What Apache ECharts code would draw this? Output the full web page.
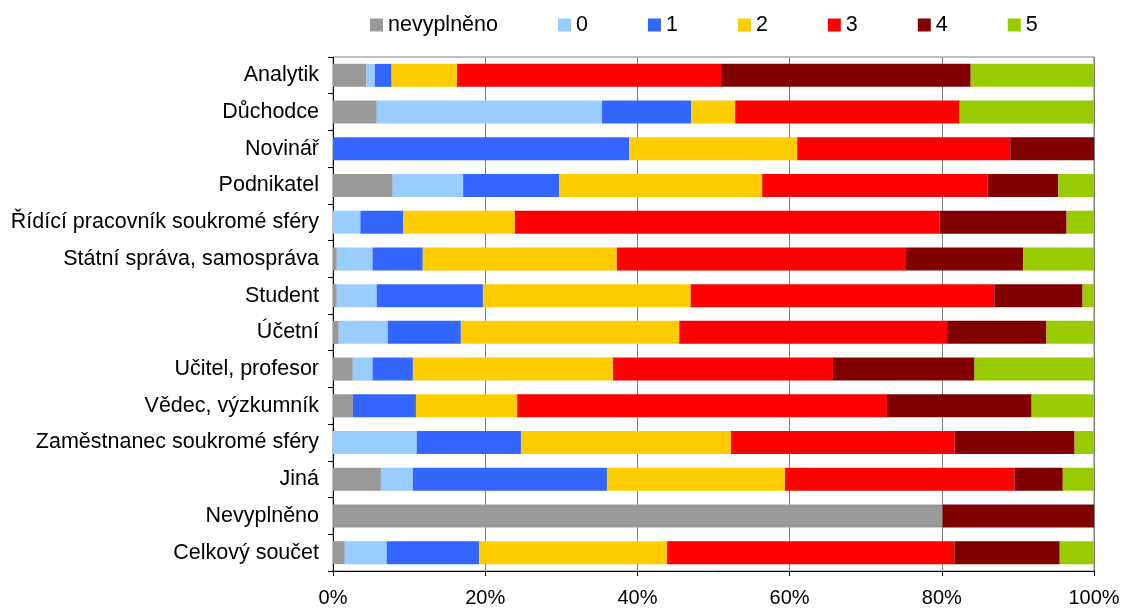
<!DOCTYPE html>
<html>
<head>
<meta charset="utf-8">
<script src="https://cdn.jsdelivr.net/npm/echarts@6/dist/echarts.min.js"></script>
<style>
html,body{margin:0;padding:0;background:#fff;}
#chart{width:1124px;height:611px;}
</style>
</head>
<body>
<div id="chart"></div>
<script>
const categories = ["Analytik","Důchodce","Novinář","Podnikatel","Řídící pracovník soukromé sféry","Státní správa, samospráva","Student","Účetní","Učitel, profesor","Vědec, výzkumník","Zaměstnanec soukromé sféry","Jiná","Nevyplněno","Celkový součet"];
const seriesNames = ["nevyplněno","0","1","2","3","4","5"];
const valNevyplneno = [4.4,5.75,0,7.85,0,0.5,0.5,0.75,2.6,2.6,0,6.3,80.1,1.55];
const val0 = [1.1,29.6,0,9.25,3.6,4.7,5.25,6.45,2.6,0,11.0,4.2,0,5.5];
const val1 = [2.2,11.7,38.9,12.6,5.6,6.6,13.95,9.6,5.3,8.3,13.7,25.5,0,12.15];
const val2 = [8.6,5.8,22.1,26.7,14.7,25.5,27.3,28.7,26.3,13.3,27.6,23.4,0,24.7];
const val3 = [34.7,29.5,28.0,29.6,55.8,38.0,39.9,35.2,28.9,48.6,29.4,30.15,0,37.75];
const val4 = [32.8,0,11.0,9.3,16.7,15.4,11.6,13.05,18.6,19.0,15.75,6.35,19.9,13.85];
const val5 = [16.2,17.65,0,4.7,3.6,9.3,1.5,6.25,15.7,8.2,2.55,4.1,0,4.5];
const xTicks = [0,20,40,60,80,100];

const values = [valNevyplneno,val0,val1,val2,val3,val4,val5];
const colors = ["#999999","#99CCFF","#3366FF","#FFCC00","#FF0000","#800000","#99CC00"];
const FONT = "'Liberation Sans', Arial, sans-serif";

const chart = echarts.init(document.getElementById('chart'), null, {renderer:'canvas'});
chart.setOption({
  animation:false,
  color: colors,
  textStyle:{fontFamily:FONT},
  legend:{
    data: seriesNames,
    top: 9,
    left: 365,
    itemWidth: 13,
    itemHeight: 13,
    itemGap: 60,
    icon: 'rect',
    textStyle:{fontSize:21.5,color:'#000',fontFamily:FONT}
  },
  grid:{left:333,right:30,top:57,bottom:40,show:true,borderColor:'#808080',borderWidth:1,backgroundColor:'transparent'},
  xAxis:{
    type:'value',min:xTicks[0],max:xTicks[xTicks.length-1],interval:xTicks[1]-xTicks[0],
    axisLine:{show:true,lineStyle:{color:'#000',width:1}},
    axisTick:{show:true,length:5,lineStyle:{color:'#000'}},
    axisLabel:{formatter:'{value}%',fontSize:20,color:'#000',margin:17,fontFamily:FONT},
    splitLine:{show:true,lineStyle:{color:'#808080',width:1}}
  },
  yAxis:{
    type:'category',inverse:true,data:categories,
    axisLine:{show:true,lineStyle:{color:'#000',width:1}},
    axisTick:{show:true,length:5,lineStyle:{color:'#000'}},
    axisLabel:{fontSize:21.5,color:'#000',margin:14,fontFamily:FONT},
    splitLine:{show:false}
  },
  series: seriesNames.map((n,i)=>({
    name:n,type:'bar',stack:'total',data:values[i],barWidth:23,
    itemStyle:{color:colors[i]}
  }))
});
</script>
</body>
</html>
